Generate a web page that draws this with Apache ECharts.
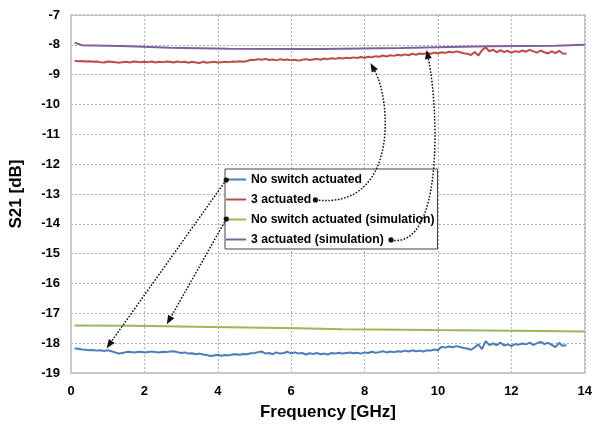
<!DOCTYPE html>
<html><head><meta charset="utf-8">
<script src="https://cdn.jsdelivr.net/npm/echarts@6/dist/echarts.min.js"></script>
<style>html,body{margin:0;padding:0;background:#fff}#c{width:595px;height:426px}</style>
</head><body><div id="c"></div>
<script>
// ---- data ----
const seriesNames = ['No switch actuated', '3 actuated', 'No switch actuated (simulation)', '3 actuated (simulation)'];
const xTicks = [0, 2, 4, 6, 8, 10, 12, 14];
const yTicks = [-19, -18, -17, -16, -15, -14, -13, -12, -11, -10, -9, -8, -7];

const freqMeas = [0.1,0.2,0.3,0.4,0.5,0.6,0.7,0.8,0.9,1.0,1.1,1.2,1.3,1.4,1.5,1.6,1.7,1.8,1.9,2.0,
2.1,2.2,2.3,2.4,2.5,2.6,2.7,2.8,2.9,3.0,3.1,3.2,3.3,3.4,3.5,3.6,3.7,3.8,3.9,4.0,
4.1,4.2,4.3,4.4,4.5,4.6,4.7,4.8,4.9,5.0,5.1,5.2,5.3,5.4,5.5,5.6,5.7,5.8,5.9,6.0,
6.1,6.2,6.3,6.4,6.5,6.6,6.7,6.8,6.9,7.0,7.1,7.2,7.3,7.4,7.5,7.6,7.7,7.8,7.9,8.0,
8.1,8.2,8.3,8.4,8.5,8.6,8.7,8.8,8.9,9.0,9.1,9.2,9.3,9.4,9.5,9.6,9.7,9.8,9.9,10.0,
10.1,10.2,10.3,10.4,10.5,10.6,10.7,10.8,10.9,11.0,11.1,11.2,11.3,11.4,11.5,11.6,11.7,11.8,11.9,12.0,
12.1,12.2,12.3,12.4,12.5,12.6,12.7,12.8,12.9,13.0,13.1,13.2,13.3,13.4,13.5];

const noSwitchMeas = [-18.18,-18.19,-18.21,-18.22,-18.24,-18.23,-18.25,-18.24,-18.26,-18.24,
-18.27,-18.31,-18.35,-18.33,-18.30,-18.29,-18.31,-18.30,-18.29,-18.31,
-18.30,-18.28,-18.30,-18.31,-18.29,-18.30,-18.28,-18.27,-18.30,-18.33,
-18.31,-18.35,-18.34,-18.37,-18.35,-18.38,-18.40,-18.43,-18.41,-18.39,
-18.42,-18.40,-18.41,-18.38,-18.37,-18.39,-18.36,-18.37,-18.34,-18.33,
-18.30,-18.28,-18.35,-18.33,-18.37,-18.31,-18.35,-18.33,-18.29,-18.34,
-18.31,-18.35,-18.33,-18.38,-18.34,-18.36,-18.33,-18.37,-18.35,-18.38,
-18.33,-18.35,-18.32,-18.35,-18.33,-18.31,-18.34,-18.32,-18.35,-18.31,
-18.33,-18.29,-18.32,-18.30,-18.27,-18.31,-18.28,-18.30,-18.27,-18.29,
-18.25,-18.28,-18.24,-18.27,-18.25,-18.28,-18.24,-18.25,-18.21,-18.24,
-18.12,-18.15,-18.11,-18.14,-18.10,-18.13,-18.16,-18.18,-18.22,-18.14,
-18.04,-18.20,-17.93,-18.06,-18.01,-18.07,-17.98,-18.08,-18.04,-18.10,
-18.03,-18.05,-18.01,-18.04,-17.98,-18.06,-18.00,-17.96,-18.03,-17.99,
-18.06,-18.13,-17.99,-18.09,-18.06];

const threeActMeas = [-8.53,-8.55,-8.54,-8.56,-8.55,-8.57,-8.56,-8.58,-8.59,-8.56,
-8.57,-8.58,-8.60,-8.58,-8.57,-8.59,-8.56,-8.57,-8.58,-8.57,
-8.58,-8.56,-8.59,-8.57,-8.58,-8.56,-8.57,-8.59,-8.56,-8.58,
-8.57,-8.60,-8.57,-8.59,-8.61,-8.57,-8.60,-8.58,-8.57,-8.59,
-8.58,-8.57,-8.58,-8.56,-8.57,-8.55,-8.57,-8.54,-8.50,-8.51,
-8.48,-8.50,-8.47,-8.51,-8.49,-8.52,-8.48,-8.51,-8.49,-8.52,
-8.50,-8.53,-8.50,-8.48,-8.51,-8.49,-8.47,-8.50,-8.46,-8.48,
-8.45,-8.47,-8.44,-8.46,-8.43,-8.45,-8.42,-8.44,-8.41,-8.43,
-8.40,-8.42,-8.38,-8.40,-8.36,-8.39,-8.35,-8.37,-8.33,-8.36,
-8.32,-8.35,-8.30,-8.33,-8.29,-8.31,-8.27,-8.30,-8.26,-8.29,
-8.25,-8.27,-8.23,-8.26,-8.22,-8.25,-8.28,-8.30,-8.34,-8.24,
-8.36,-8.18,-8.08,-8.22,-8.16,-8.25,-8.18,-8.24,-8.20,-8.27,
-8.21,-8.24,-8.19,-8.23,-8.17,-8.22,-8.26,-8.19,-8.25,-8.29,
-8.22,-8.28,-8.20,-8.29,-8.30];

const freqSimNo = [0.1,1.7,1.75,3.8,3.85,6.2,6.25,7.4,7.45,9.8,9.85,12.8,12.85,14];
const noSwitchSim = [-17.41,-17.42,-17.45,-17.46,-17.48,-17.50,-17.52,-17.53,-17.55,-17.56,-17.58,-17.59,-17.61,-17.61];

const freqSim3 = [0.1,0.3,1.0,1.6,2.7,4.3,6.85,6.9,9.0,9.05,10.3,10.35,11.4,11.45,13.2,13.25,14];
const threeActSim = [-7.93,-8.01,-8.03,-8.05,-8.10,-8.13,-8.14,-8.11,-8.11,-8.08,-8.07,-8.05,-8.05,-8.03,-8.03,-8.00,-8.00];

// ---- build ----
const zip = (xs, ys) => xs.map((x, i) => [x, ys[i]]);
const colors = ['#4a7ebb', '#be4b48', '#98b954', '#7d60a0'];
const FONT = '"Liberation Sans", Arial, sans-serif';

const chart = echarts.init(document.getElementById('c'), null, {renderer: 'canvas'});
const mkSeries = (name, data, color) => ({
  name, type: 'line', data, showSymbol: false, symbol: 'none', smooth: false,
  lineStyle: {color, width: 2}, itemStyle: {color}, animation: false, z: 3
});

chart.setOption({
  animation: false,
  backgroundColor: '#fff',
  grid: {left: 68, right: 7, top: 15, bottom: 53, show: true, borderColor: '#c8c8c8', borderWidth: 1.5},
  xAxis: {
    type: 'value', min: xTicks[0], max: xTicks[xTicks.length - 1], interval: 2,
    name: 'Frequency [GHz]', nameLocation: 'middle', nameGap: 31,
    nameTextStyle: {fontFamily: FONT, fontWeight: 'bold', fontSize: 17, color: '#000'},
    axisLine: {lineStyle: {color: '#c8c8c8', width: 1.5}},
    axisTick: {show: false},
    axisLabel: {fontFamily: FONT, fontWeight: 'bold', fontSize: 13, color: '#000', margin: 12},
    splitLine: {show: true, lineStyle: {color: '#b0b0b0', type: [2, 2], width: 1}}
  },
  yAxis: {
    type: 'value', min: yTicks[0], max: yTicks[yTicks.length - 1], interval: 1,
    name: 'S21 [dB]', nameLocation: 'middle', nameGap: 46, nameRotate: 90,
    nameTextStyle: {fontFamily: FONT, fontWeight: 'bold', fontSize: 17, color: '#000'},
    axisLine: {show: true, lineStyle: {color: '#c8c8c8', width: 1.5}},
    axisTick: {show: false},
    axisLabel: {fontFamily: FONT, fontWeight: 'bold', fontSize: 13, color: '#000', margin: 11},
    splitLine: {show: true, lineStyle: {color: '#b0b0b0', type: [2, 2], width: 1}}
  },
  legend: {
    data: seriesNames, orient: 'vertical', left: 225, top: 169,
    icon: 'rect', itemWidth: 20, itemHeight: 2, itemGap: 5, itemTextGap: 1,
    padding: [3, 3, 2, 1], backgroundColor: '#fff', borderColor: '#444', borderWidth: 1,
    textStyle: {fontFamily: FONT, fontWeight: 'bold', fontSize: 12.2, color: '#000', lineHeight: 15},
    z: 10
  },
  series: [
    mkSeries(seriesNames[0], zip(freqMeas, noSwitchMeas), colors[0]),
    mkSeries(seriesNames[1], zip(freqMeas, threeActMeas), colors[1]),
    mkSeries(seriesNames[2], zip(freqSimNo, noSwitchSim), colors[2]),
    mkSeries(seriesNames[3], zip(freqSim3, threeActSim), colors[3])
  ]
});

// ---- annotation arrows (anchor points in data coordinates) ----
const arrows = [
  {p0: [4.23, -12.53], p3: [0.97, -18.17]},
  {p0: [4.23, -13.84], p3: [2.61, -17.37]},
  {p0: [6.66, -13.20], p1: [8.94, -13.54], p2: [8.72, -9.85], p3: [8.16, -8.61]},
  {p0: [8.72, -14.54], p1: [10.15, -14.88], p2: [10.02, -10.18], p3: [9.69, -8.17]}
];
const px = p => chart.convertToPixel({gridIndex: 0}, p);
const graphics = [];
arrows.forEach(a => {
  const P0 = px(a.p0), P3 = px(a.p3);
  let P1, P2;
  if (a.p1) { P1 = px(a.p1); P2 = px(a.p2); }
  else { P1 = [P0[0] + (P3[0] - P0[0]) / 3, P0[1] + (P3[1] - P0[1]) / 3]; P2 = [P0[0] + 2 * (P3[0] - P0[0]) / 3, P0[1] + 2 * (P3[1] - P0[1]) / 3]; }
  let dx = P3[0] - P2[0], dy = P3[1] - P2[1];
  const L = Math.hypot(dx, dy); dx /= L; dy /= L;
  const hl = 9, hw = 3.5;
  const base = [P3[0] - dx * hl, P3[1] - dy * hl];
  graphics.push({
    type: 'bezierCurve', z: 20, silent: true,
    shape: {x1: P0[0], y1: P0[1], cpx1: P1[0], cpy1: P1[1], cpx2: P2[0], cpy2: P2[1], x2: base[0], y2: base[1]},
    style: {stroke: '#111', lineWidth: 1.5, lineDash: [1.6, 1.6], fill: null}
  });
  graphics.push({
    type: 'polygon', z: 21, silent: true,
    shape: {points: [P3, [base[0] - dy * hw, base[1] + dx * hw], [base[0] + dy * hw, base[1] - dx * hw]]},
    style: {fill: '#111'}
  });
  graphics.push({type: 'circle', z: 21, silent: true, shape: {cx: P0[0], cy: P0[1], r: 2.6}, style: {fill: '#111'}});
});
chart.setOption({graphic: graphics});
</script>
</body></html>
